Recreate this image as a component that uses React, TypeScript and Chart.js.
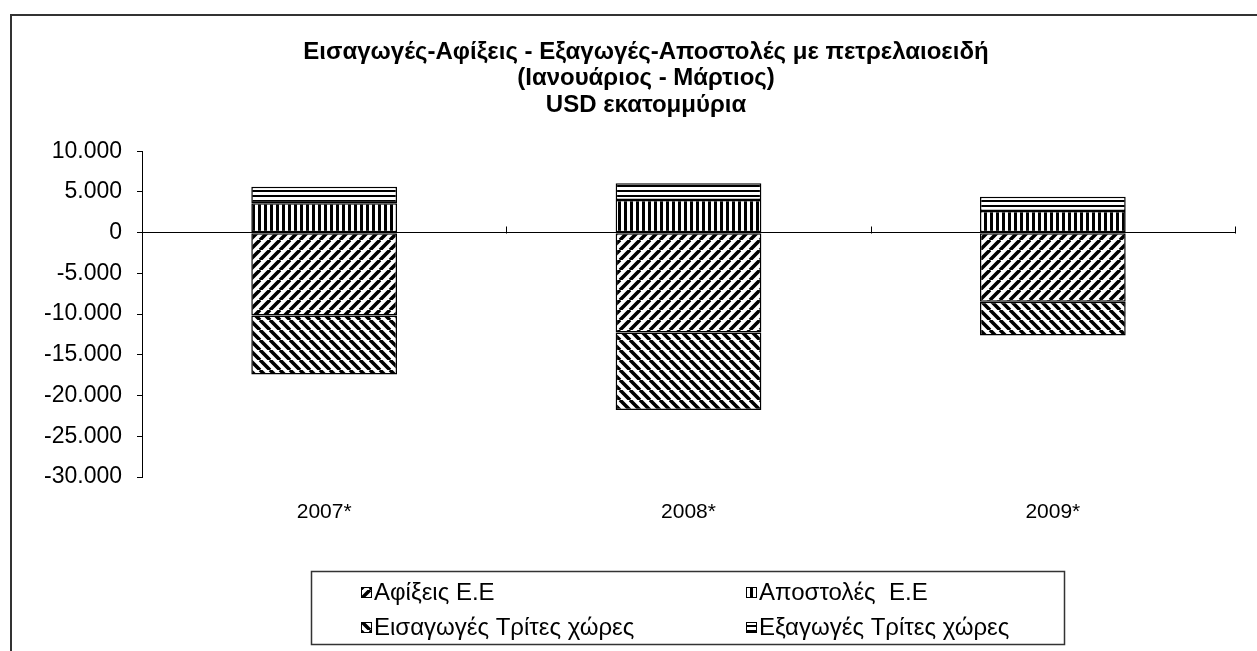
import React, { useEffect, useRef } from 'react';
import { Chart, registerables } from 'chart.js';

Chart.register(...registerables);

// ---------- data ----------
const CATEGORIES = ['2007*', '2008*', '2009*'];
const AFIXEIS_EE = [-10180, -12270, -8470];
const APOSTOLES_EE = [3600, 4000, 2660];
const EISAGOGES_TX = [-7240, -9500, -4170];
const EXAGOGES_TX = [2040, 2050, 1760];

const SERIES_LABELS = [
  'Αφίξεις Ε.Ε',
  'Αποστολές  Ε.Ε',
  'Εισαγωγές Τρίτες χώρες',
  'Εξαγωγές Τρίτες χώρες',
];

const TITLE_LINES = [
  'Εισαγωγές-Αφίξεις - Εξαγωγές-Αποστολές με πετρελαιοειδή',
  '(Ιανουάριος - Μάρτιος)',
  'USD εκατομμύρια',
];

const Y_MIN = -30000;
const Y_MAX = 10000;
const Y_STEP = 5000;

// ---------- helpers ----------
const FONT = '"Liberation Sans", Arial, Helvetica, sans-serif';

const fmt = (v: number): string => {
  const s = Math.abs(Math.round(v)).toString().replace(/\B(?=(\d{3})+(?!\d))/g, '.');
  return (v < 0 ? '-' : '') + s;
};

type Kind = 'up' | 'down' | 'vert' | 'horiz';

function makePattern(kind: Kind): CanvasPattern | string {
  const c = document.createElement('canvas');
  const ctx = c.getContext('2d');
  if (!ctx) return '#888';
  if (kind === 'up' || kind === 'down') {
    const s = 10;
    c.width = s;
    c.height = s;
    ctx.fillStyle = '#fff';
    ctx.fillRect(0, 0, s, s);
    ctx.strokeStyle = '#000';
    ctx.lineWidth = 3.6;
    ctx.beginPath();
    for (let k = -1; k <= 1; k++) {
      if (kind === 'up') {
        ctx.moveTo(k * s, s);
        ctx.lineTo(k * s + s, 0);
      } else {
        ctx.moveTo(k * s, 0);
        ctx.lineTo(k * s + s, s);
      }
    }
    ctx.stroke();
  } else if (kind === 'vert') {
    c.width = 6;
    c.height = 6;
    ctx.fillStyle = '#fff';
    ctx.fillRect(0, 0, 6, 6);
    ctx.fillStyle = '#000';
    ctx.fillRect(0, 0, 3, 6);
  } else {
    c.width = 5;
    c.height = 5;
    ctx.fillStyle = '#fff';
    ctx.fillRect(0, 0, 5, 5);
    ctx.fillStyle = '#000';
    ctx.fillRect(0, 0, 5, 2);
  }
  const mainCtx = document.createElement('canvas').getContext('2d');
  const p = mainCtx ? mainCtx.createPattern(c, 'repeat') : null;
  return p || '#888';
}

const framePlugin = {
  id: 'outerFrame',
  beforeDraw(chart: any) {
    const ctx = chart.ctx;
    ctx.save();
    ctx.fillStyle = '#fff';
    ctx.fillRect(0, 0, chart.width, chart.height);
    ctx.strokeStyle = '#333';
    ctx.lineWidth = 2;
    ctx.strokeRect(11, 15, 3000, 3000);
    ctx.restore();
  },
};

const xTickPlugin = {
  id: 'xTicksOnZero',
  afterDraw(chart: any) {
    const { ctx, chartArea } = chart;
    const y = chart.scales.y;
    const zy = Math.round(y.getPixelForValue(0)) + 0.5;
    const n = chart.data.labels.length;
    ctx.save();
    ctx.strokeStyle = '#000';
    ctx.lineWidth = 1;
    ctx.beginPath();
    for (let i = 0; i <= n; i++) {
      const x = Math.round(chartArea.left + (i * (chartArea.right - chartArea.left)) / n) + 0.5;
      ctx.moveTo(x, zy - 7);
      ctx.lineTo(x, zy);
    }
    ctx.stroke();
    ctx.restore();
  },
};

const legendPlugin = {
  id: 'boxLegend',
  afterDraw(chart: any) {
    const ctx = chart.ctx;
    ctx.save();
    ctx.strokeStyle = '#333';
    ctx.lineWidth = 1.5;
    ctx.strokeRect(311.5, 571.5, 753, 73);
    const cols = [361, 746];
    const rows = [592, 627];
    ctx.font = `24px ${FONT}`;
    ctx.textBaseline = 'middle';
    ctx.textAlign = 'left';
    chart.data.datasets.forEach((ds: any, i: number) => {
      const x = cols[i % 2];
      const y = rows[Math.floor(i / 2)];
      ctx.fillStyle = ds.backgroundColor;
      ctx.fillRect(x, y - 5, 11, 11);
      ctx.strokeStyle = '#000';
      ctx.lineWidth = 1;
      ctx.strokeRect(x + 0.5, y - 4.5, 10, 10);
      ctx.fillStyle = '#000';
      ctx.fillText(ds.label, x + 13, y + 1);
    });
    ctx.restore();
  },
};

export default function App() {
  const ref = useRef<HTMLCanvasElement | null>(null);

  useEffect(() => {
    if (!ref.current) return;
    const patterns = [
      makePattern('up'),
      makePattern('vert'),
      makePattern('down'),
      makePattern('horiz'),
    ];
    const series = [AFIXEIS_EE, APOSTOLES_EE, EISAGOGES_TX, EXAGOGES_TX];
    const chart = new Chart(ref.current, {
      type: 'bar',
      data: {
        labels: CATEGORIES,
        datasets: series.map((data, i) => ({
          label: SERIES_LABELS[i],
          data,
          backgroundColor: patterns[i] as any,
          borderColor: '#000',
          borderWidth: 1.5,
          borderSkipped: false,
          barPercentage: 0.4,
          categoryPercentage: 1,
          yAxisID: 'y',
        })),
      },
      options: {
        responsive: false,
        animation: false,
        devicePixelRatio: 1,
        layout: { padding: { left: 0, right: 0, top: 0, bottom: 124 } },
        plugins: {
          legend: { display: false },
          tooltip: { enabled: false },
          title: {
            display: true,
            text: TITLE_LINES,
            color: '#000',
            font: { family: FONT, size: 24, weight: 'bold', lineHeight: 1.1 },
            padding: { top: 39, bottom: 33 },
          },
        },
        scales: {
          x: {
            stacked: true,
            grid: { display: false },
            border: { display: false },
            ticks: { color: '#000', font: { family: FONT, size: 21 }, padding: 15 },
            afterFit: (s: any) => {
              s.height = 50;
            },
          },
          y: {
            stacked: true,
            position: 'left',
            min: Y_MIN,
            max: Y_MAX,
            ticks: {
              stepSize: Y_STEP,
              color: '#000',
              font: { family: FONT, size: 23 },
              padding: 15,
              callback: (v: any) => fmt(Number(v)),
            },
            grid: {
              color: (c: any) => (c.tick && c.tick.value === 0 ? '#000' : 'rgba(0,0,0,0)'),
              tickColor: '#000',
              tickLength: 5,
              lineWidth: 1,
            },
            border: { display: true, color: '#000', width: 1 },
            afterFit: (s: any) => {
              s.width = 142;
            },
          },
          spacer: {
            type: 'linear',
            position: 'right',
            display: true,
            grid: { display: false },
            border: { display: false },
            ticks: { display: false },
            afterFit: (s: any) => {
              s.width = 57;
            },
          },
        },
      } as any,
      plugins: [framePlugin, xTickPlugin, legendPlugin],
    });
    return () => chart.destroy();
  }, []);

  return (
    <div
      style={{
        position: 'fixed',
        left: 0,
        top: 0,
        width: 1257,
        height: 651,
        overflow: 'hidden',
        background: '#fff',
      }}
    >
      <canvas ref={ref} width={1292} height={651} style={{ display: 'block' }} />
    </div>
  );
}
